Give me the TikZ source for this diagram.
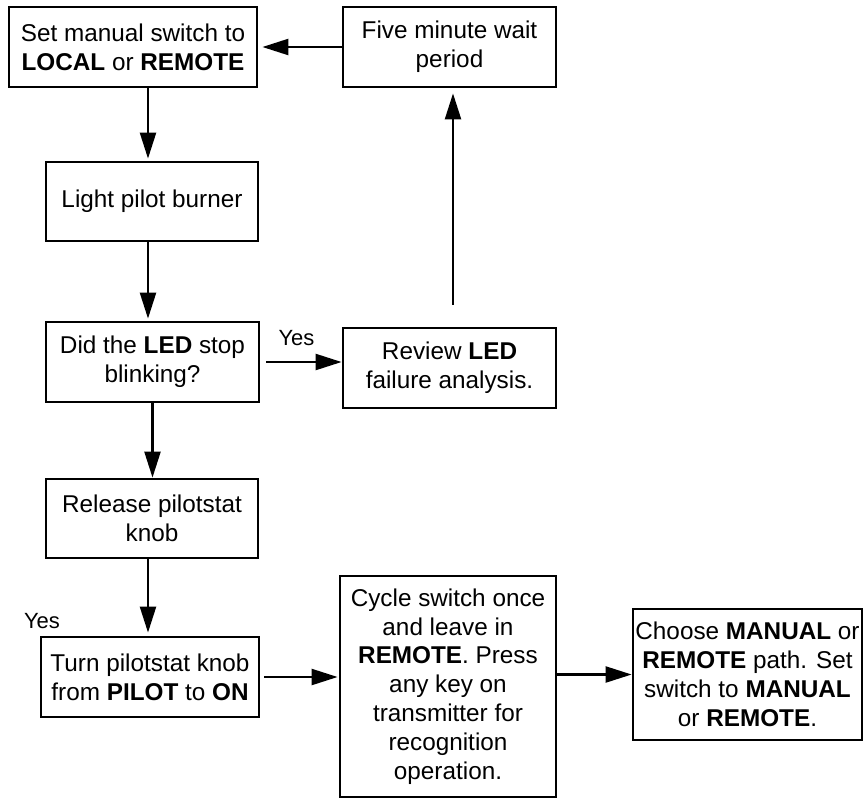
\documentclass[tikz,border=0pt]{standalone}
\usepackage{fontspec}
\setmainfont{Liberation Sans}
\usetikzlibrary{arrows.meta, positioning, calc}

\begin{document}
\begin{tikzpicture}[
  x=1pt, y=-1pt,
  font=\fontsize{24.3}{28.8}\selectfont,
  stepbox/.style={draw, rectangle, line width=2.8pt, inner sep=0pt,
                  minimum width=213pt, minimum height=80pt, align=center},
  arr/.style={-{Triangle[length=26pt, width=16pt]}, line width=2.3pt},
  yes/.style={font=\fontsize{22}{26}\selectfont, anchor=base},
]
\useasboundingbox (0,0) rectangle (864,798);

\node[stepbox, minimum width=248pt] (manual) at (133,47)    {Set manual switch to\\\textbf{LOCAL} or \textbf{REMOTE}};
\node[stepbox]                      (wait)    at (449.5,47)  {Five minute wait\\period};
\node[stepbox, minimum width=212pt, minimum height=79pt] (burner) at (152,201.5) {Light pilot burner};
\node[stepbox]                      (led)     at (152.5,362) {Did the \textbf{LED} stop\\blinking?};
\node[stepbox]                      (review)  at (449.5,368) {Review \textbf{LED}\\failure analysis.};
\node[stepbox, minimum width=212pt, minimum height=79pt] (release) at (152,518.5) {Release pilotstat\\knob};
\node[stepbox, minimum width=218pt] (turn)    at (150,677)   {Turn pilotstat knob\\from \textbf{PILOT} to \textbf{ON}};
\node[stepbox, minimum width=216pt, minimum height=221pt] (cycle) at (448,686.5) {Cycle switch once\\and leave in\\\textbf{REMOTE}. Press\\any key on\\transmitter for\\recognition\\operation.};
\node[stepbox, minimum width=229pt, minimum height=131pt] (choose) at (747.5,674.5) {Choose \textbf{MANUAL} or\\\textbf{REMOTE} path. Set\\switch to \textbf{MANUAL}\\or \textbf{REMOTE}.};

\node[yes] (yesled)  at (296.5,345) {Yes};
\node[yes] (yesturn) at (42,628)    {Yes};

% connector columns
\coordinate (col)  at (148,0);
\coordinate (back) at (453,0);

\draw[arr, shorten >=4pt] (wait.west) -- (manual.east);
\draw[arr, shorten >=2pt] (manual.south -| col) -- (burner.north -| col);
\draw[arr, shorten >=2pt] (burner.south -| col) -- (led.north -| col);
\draw[arr, shorten <=6pt] (led.east) -- (led.east -| review.west);
\draw[arr, shorten <=22pt, shorten >=5pt] (review.north -| back) -- (wait.south -| back);
\draw[arr] (led.south) -- (led.south |- release.north);
\draw[arr, shorten >=3pt] (release.south -| col) -- (turn.north -| col);
\draw[arr, shorten <=4pt, shorten >=1pt] (turn.east) -- (turn.east -| cycle.west);
\draw[arr] (choose.west -| cycle.east) -- (choose.west);
\end{tikzpicture}
\end{document}
